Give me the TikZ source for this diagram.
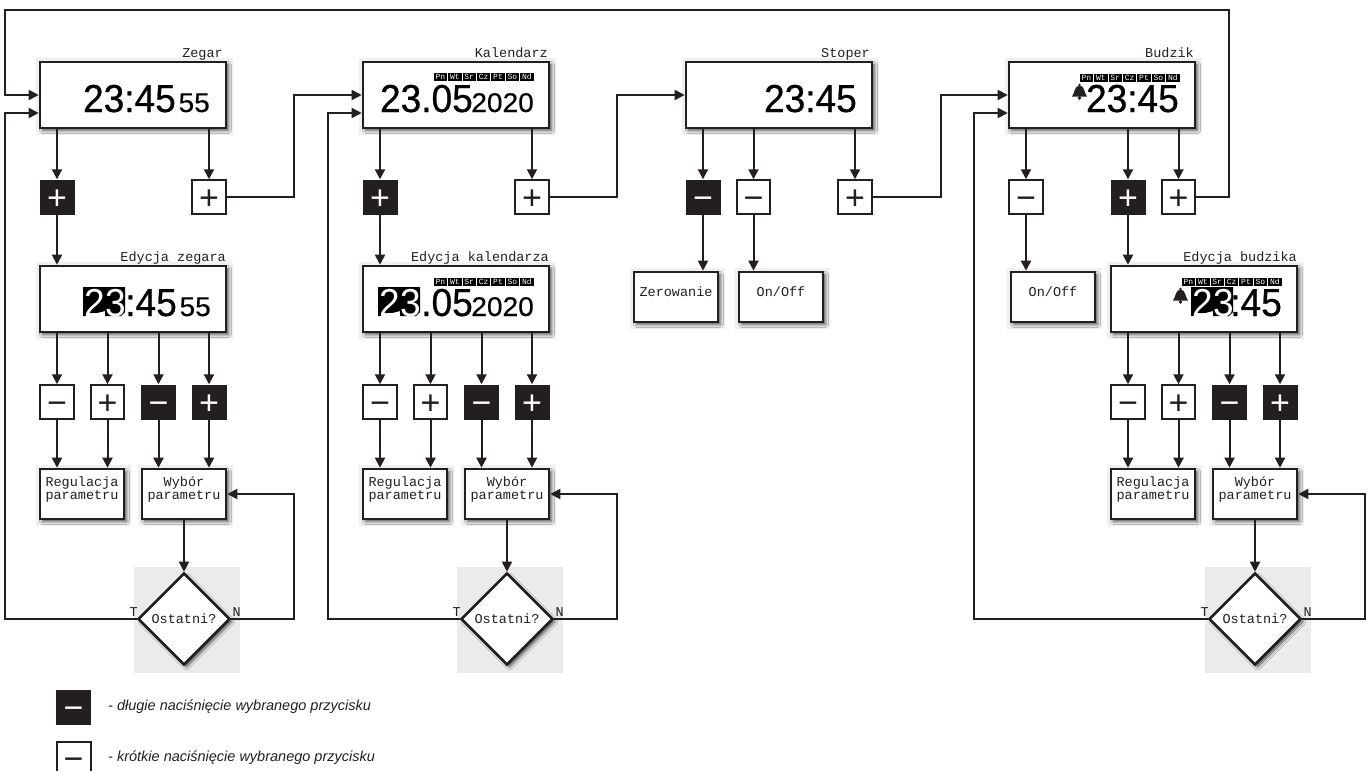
\documentclass[tikz,border=0pt]{standalone}
\usepackage{fontspec}
\setmainfont{Liberation Sans}
\newfontfamily\lcdfont[FakeStretch=.95,FakeBold=.6]{Liberation Sans}
\newfontfamily\lcdsmall[FakeStretch=1.04,FakeBold=.4]{Liberation Sans}
\newfontfamily\lcdinv[FakeStretch=.95]{Liberation Sans}
\newfontfamily\lcdtxt{Liberation Mono}
\usepackage{xcolor}
\usetikzlibrary{shapes.geometric, arrows.meta, calc, positioning, fit, shadows.blur}
\definecolor{ink}{HTML}{231F20}

\tikzset{dzwon/.pic={
	\fill[ink] (0,1) circle (1.4);
	\fill[ink] (-7.5,12.5) .. controls (-4.5,9) and (-5.5,2) .. (0,1.5) .. controls (5.5,2) and (4.5,9) .. (7.5,12.5) -- cycle;
	\fill[ink] (0,14) circle (1.8);
}}

\begin{document}
\begin{tikzpicture}[x=1pt,y=-1pt,
	line/.style = {draw=ink,line width=2pt},
	arrow/.style = {line,-{Triangle[length=10pt,width=10pt]}}]
	\tikzset{box/.style={draw=ink,line width=2.6pt,fill=white,inner sep=0pt,align=center,text=ink,font=\lcdtxt\fontsize{13.5}{11}\selectfont,preaction={draw=black!6,line width=11pt,transform canvas={xshift=1pt,yshift=-1.5pt}},blur shadow={shadow xshift=2.5pt,shadow yshift=-2.5pt,shadow blur radius=3pt,shadow opacity=65}}}
	\tikzset{title/.style={anchor=base east,inner sep=0pt,text=ink,font=\lcdtxt\fontsize{13.5}{13.5}\selectfont}}
	\tikzset{big/.style={anchor=base east,inner sep=0pt,text=black,font=\lcdfont\fontsize{39}{39}\selectfont}}
	\tikzset{small/.style={anchor=base east,inner sep=0pt,text=black,font=\lcdsmall\fontsize{27}{27}\selectfont}}
	\tikzset{btnlong/.style={fill=ink,text=white,minimum size=35pt,inner sep=0pt,text height=24pt,text depth=0pt,font=\fontsize{34}{34}\selectfont}}
	\tikzset{btnshort/.style={draw=ink,line width=2pt,fill=white,text=ink,minimum size=33.5pt,inner sep=0pt,text height=24pt,text depth=0pt,font=\fontsize{34}{34}\selectfont}}
	\tikzset{chip/.style={fill=black,text=white,minimum width=13.4pt,minimum height=8pt,inner sep=0pt,text height=5pt,text depth=0pt,font=\lcdtxt\fontsize{8}{8}\selectfont}}
	\tikzset{legend/.style={anchor=base west,inner sep=0pt,text=ink,font=\itshape\fontsize{14.5}{14.5}\selectfont}}

	\useasboundingbox (0,0) rectangle (1370,771);

	% ekrany glowne
	\node[fit={(40,62) (226,128)}, box] (zegar) {};
	\node[fit={(363,62) (549,128)}, box] (kal) {};
	\node[fit={(686,62) (872,128)}, box] (stoper) {};
	\node[fit={(1009,62) (1195,128)}, box] (bud) {};
	\node[title] (tzegar) at (223,57) {Zegar};
	\node[title] (tkal) at (548,57) {Kalendarz};
	\node[title] (tstoper) at (870,57) {Stoper};
	\node[title] (tbud) at (1194,57) {Budzik};

	\node[big] (zegarA) at (176,112) {23:45};
	\node[small] (zegarB) at (210,112) {55};
	\node[big] (kalA) at (473,112) {23.05};
	\node[small] (kalB) at (534,112) {2020};
	\node[big] (stoperA) at (857,112) {23:45};
	\node[big] (budA) at (1179,112) {23:45};
	\pic at (1079.5,84) {dzwon};

	% przyciski pod ekranami
	\node[btnlong] (zp) at (57,197) {+};
	\node[btnshort] (zs) at (209,197) {+};
	\node[btnlong] (kp) at (380,197) {+};
	\node[btnshort] (ks) at (532,197) {+};
	\node[btnlong] (sm) at (703,197) {−};
	\node[btnshort] (sk) at (753.5,197) {−};
	\node[btnshort] (ss) at (855,197) {+};
	\node[btnshort] (bk) at (1026,197) {−};
	\node[btnlong] (bp) at (1128,197) {+};
	\node[btnshort] (bs) at (1178.5,197) {+};

	\node[fit={(634,272) (718,322)}, box] (zero) {Zerowanie};
	\node[fit={(739,272) (823,322)}, box] (onoff) {On/Off};
	\node[fit={(1011,272) (1095,322)}, box] (bonoff) {On/Off};

	% edycja, ta sama dla trzech kolumn
	\foreach \nm/\x/\lx/\tt in {zegar/39/5/Edycja zegara,kal/362/328/Edycja kalendarza,bud/1110/974/Edycja budzika} {
		\node[fit={(\x+95,567) (\x+201,673)}, fill=black!8, inner sep=0pt] (tlo\nm) {};
		\node[fit={(\x+1,266) (\x+187,332)}, box] (ed\nm) {};
		\node[title] (ted\nm) at (\x+187,261.5) {\tt};
		\node[btnshort] (em\nm) at (\x+18,402) {−};
		\node[btnshort] (ep\nm) at (\x+68.5,402) {+};
		\node[btnlong] (lm\nm) at (\x+119.5,402) {−};
		\node[btnlong] (lp\nm) at (\x+170,402) {+};
		\node[fit={(\x+1,469) (\x+85,519)}, box] (reg\nm) {Regulacja\\parametru};
		\node[fit={(\x+103,469) (\x+187,519)}, box] (wyb\nm) {Wybór\\parametru};
		\node[diamond, draw=ink, line width=2.6pt, fill=white, inner sep=0pt, text=ink, font=\lcdtxt\fontsize{13.5}{11}\selectfont, blur shadow={shadow xshift=2.5pt,shadow yshift=-2.5pt,shadow blur radius=3pt,shadow opacity=65}, minimum width=92pt, minimum height=92pt, aspect=1] (ost\nm) at (\x+145,619) {Ostatni?};
		\node[title] (t\nm) at (\x+99,616) {T};
		\node[title] (n\nm) at (\x+202,616) {N};

		\draw[arrow] (em\nm.north |- ed\nm.south) -- (em\nm.north);
		\draw[arrow] (ep\nm.north |- ed\nm.south) -- (ep\nm.north);
		\draw[arrow] (lm\nm.north |- ed\nm.south) -- (lm\nm.north);
		\draw[arrow] (lp\nm.north |- ed\nm.south) -- (lp\nm.north);
		\draw[arrow] (em\nm.south) -- (em\nm.south |- reg\nm.north);
		\draw[arrow] (ep\nm.south) -- (ep\nm.south |- reg\nm.north);
		\draw[arrow] (lm\nm.south) -- (lm\nm.south |- wyb\nm.north);
		\draw[arrow] (lp\nm.south) -- (lp\nm.south |- wyb\nm.north);
		\draw[arrow] (wyb\nm.south) -- (ost\nm.north);

		\coordinate (lewy\nm) at (\lx,619);
		\coordinate (prawy\nm) at (\x+255,619);
		\coordinate (wej\nm) at ([yshift=-18pt]\nm.west);
		\draw[arrow] (ost\nm.west) -- (lewy\nm) |- (wej\nm);
		\draw[arrow] (ost\nm.east) -- (prawy\nm) |- (wyb\nm.east);
	}

	% dni tygodnia
	\foreach \nm/\cx/\cy in {kal/426/77,bud/1072/77.5,edkal/426/281.5,edbud/1174/281.5} {
		\foreach \day [count=\i] in {Pn,Wt,Sr,Cz,Pt,So,Nd} {
			\node[chip] (\nm\day) at (\cx+\i*14.4,\cy) {\day};
		}
	}

	% ekrany edycji, podswietlone 23
	\foreach \nm/\dx in {zegar/83,kal/378,bud/1191} {
		\fill[black] (\dx,287) -- (\dx+42,287) -- (\dx+42,312) -- (\dx+38,316) -- (\dx+22,316) -- (\dx+22,311) -- (\dx+2,316) -- (\dx,316) -- cycle;
		\node[big,text=white,font=\lcdinv\fontsize{39}{39}\selectfont] (inv\nm) at (\dx+43,316) {23};
	}
	\node[big] (edzegarA) at (177,316) {:45};
	\node[small] (edzegarB) at (211,316) {55};
	\node[big] (edkalA) at (473,316) {.05};
	\node[small] (edkalB) at (534,316) {2020};
	\node[big] (edbudA) at (1282,316) {:45};
	\pic at (1180.5,288) {dzwon};

	% polaczenia
	\draw[arrow] (zp.north |- zegar.south) -- (zp.north);
	\draw[arrow] (zs.north |- zegar.south) -- (zs.north);
	\draw[arrow] (zp.south) -- (zp.south |- edzegar.north);
	\draw[arrow] (kp.north |- kal.south) -- (kp.north);
	\draw[arrow] (ks.north |- kal.south) -- (ks.north);
	\draw[arrow] (kp.south) -- (kp.south |- edkal.north);
	\draw[arrow] (sm.north |- stoper.south) -- (sm.north);
	\draw[arrow] (sk.north |- stoper.south) -- (sk.north);
	\draw[arrow] (ss.north |- stoper.south) -- (ss.north);
	\draw[arrow] (sm.south) -- (sm.south |- zero.north);
	\draw[arrow] (sk.south) -- (sk.south |- onoff.north);
	\draw[arrow] (bk.north |- bud.south) -- (bk.north);
	\draw[arrow] (bp.north |- bud.south) -- (bp.north);
	\draw[arrow] (bs.north |- bud.south) -- (bs.north);
	\draw[arrow] (bk.south) -- (bk.south |- bonoff.north);
	\draw[arrow] (bp.south) -- (bp.south |- edbud.north);

	\coordinate (zk) at (294,197);
	\coordinate (ks1) at (617,197);
	\coordinate (sb) at (941,197);
	\coordinate (g1) at (1229,10);
	\coordinate (g2) at (5,10);
	\draw[arrow] (zs.east) -- (zk) |- (kal.west);
	\draw[arrow] (ks.east) -- (ks1) |- (stoper.west);
	\draw[arrow] (ss.east) -- (sb) |- (bud.west);
	\draw[arrow] (bs.east) -| (g1) -- (g2) |- (zegar.west);

	% legenda
	\node[btnlong] (lega) at (73.5,707) {−};
	\node[inner sep=0pt,text=ink,text height=24pt,text depth=0pt,font=\fontsize{34}{34}\selectfont] (legb) at (73.5,758.5) {−};
	\draw[line] (56.5,771) |- (90.5,741.8) -- (90.5,771);
	\node[legend] (opisa) at (108,710.5) {- długie naciśnięcie wybranego przycisku};
	\node[legend] (opisb) at (108,761.5) {- krótkie naciśnięcie wybranego przycisku};
\end{tikzpicture}
\end{document}
